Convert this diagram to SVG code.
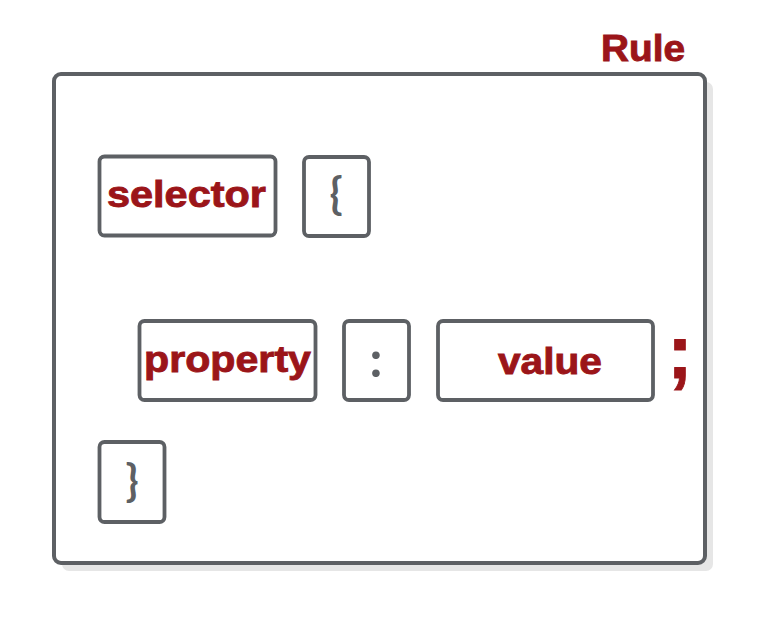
<svg xmlns="http://www.w3.org/2000/svg" width="768" height="618" viewBox="0 0 768 618">
<style>
.box{fill:#fff;stroke:#5d6064;stroke-width:3.8}
.lbl{font-family:"Liberation Sans",Arial,sans-serif;font-weight:bold;fill:#9b1519;stroke:#9b1519;stroke-width:0.9}
.sym{font-family:Lato,"Liberation Sans",sans-serif;font-weight:bold;fill:#5d6064}
</style>
<rect width="768" height="618" fill="#fff"/>
<g id="rule">
<rect x="62" y="82" width="651" height="489" rx="7" fill="#e6e6e6"/>
<rect x="54" y="74" width="651" height="489" rx="7" fill="#fff" stroke="#5d6064" stroke-width="4"/>
<text class="lbl" x="601" y="61" font-size="36" textLength="84" lengthAdjust="spacingAndGlyphs">Rule</text>
</g>
<g id="selector">
<rect class="box" x="99.5" y="156.5" width="176" height="79" rx="5"/>
<text class="lbl" x="107" y="207" font-size="37" textLength="159" lengthAdjust="spacingAndGlyphs">selector</text>
</g>
<g id="open-brace">
<rect class="box" x="304" y="157" width="65" height="79" rx="5"/>
<text class="sym" x="336" y="209" font-size="43" text-anchor="middle">{</text>
</g>
<g id="property">
<rect class="box" x="139.5" y="321" width="176" height="79" rx="5"/>
<text class="lbl" x="144" y="372" font-size="37" textLength="167" lengthAdjust="spacingAndGlyphs">property</text>
</g>
<g id="colon">
<rect class="box" x="344" y="321" width="65" height="79" rx="5"/>
<text class="sym" x="376" y="377" font-size="50" text-anchor="middle">:</text>
</g>
<g id="value">
<rect class="box" x="438" y="321" width="215" height="79" rx="5"/>
<text class="lbl" x="498" y="374" font-size="37" textLength="104" lengthAdjust="spacingAndGlyphs">value</text>
</g>
<g id="semicolon">
<text class="lbl" x="680" y="378" font-size="76" text-anchor="middle" stroke-width="2">;</text>
</g>
<g id="close-brace">
<rect class="box" x="99.5" y="442" width="65" height="80" rx="5"/>
<text class="sym" x="132" y="496" font-size="43" text-anchor="middle">}</text>
</g>
<g id="connectors"></g>
</svg>
